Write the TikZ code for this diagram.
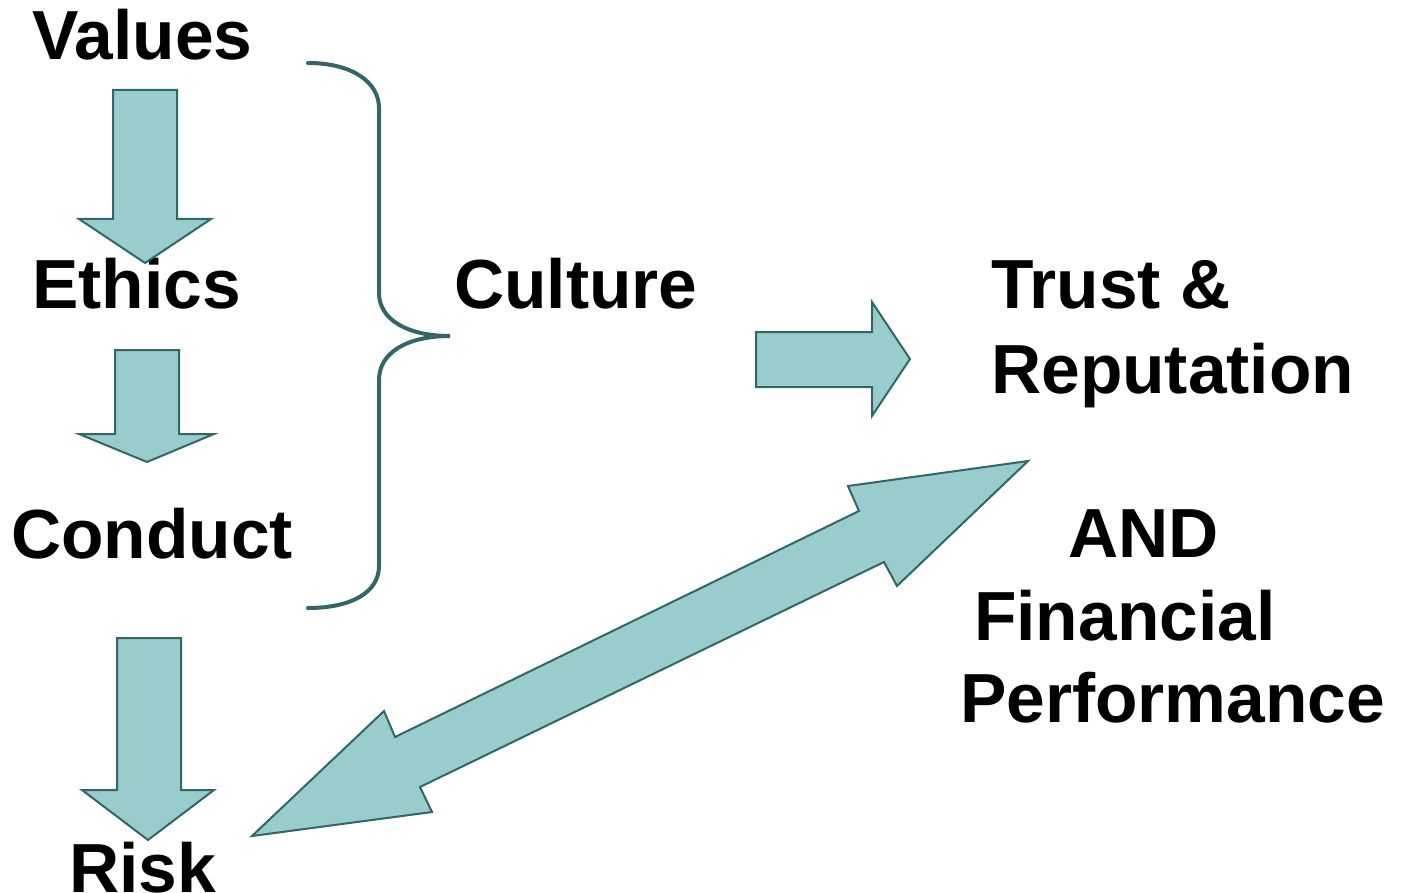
\documentclass[tikz,border=0pt]{standalone}
\usepackage{fontspec}
\setmainfont{Liberation Sans}
\begin{document}
\begin{tikzpicture}[x=1pt,y=-1pt,
  blockarrow/.style={fill=arrowfill,draw=arrowline,line width=2pt,line join=miter},
  brace/.style={draw=arrowline,line width=4pt,line cap=round},
  lbl/.style={anchor=base west,inner sep=0pt,font=\bfseries\fontsize{69.5}{83}\selectfont}]
\definecolor{arrowfill}{HTML}{99CCCC}
\definecolor{arrowline}{HTML}{336666}
\useasboundingbox (0,0) rectangle (1402,893);
% texts
\node[lbl] (values) at (32,60) {Values};
\node[lbl] (ethics) at (32,308) {Ethics};
\node[lbl] (conduct) at (11,558) {Conduct};
\node[lbl] (risk) at (69,892) {Risk};
\node[lbl] (culture) at (454,308) {Culture};
\node[lbl] (trust) at (991,308) {Trust \&};
\node[lbl] (rep) at (991,393) {Reputation};
\node[lbl] (and) at (1068,557) {AND};
\node[lbl] (fin) at (974,640) {Financial};
\node[lbl] (perf) at (960,722) {Performance};
% down arrows
\draw[blockarrow] (113,90) -- (177,90) -- (177,219) -- (211,219) -- (145,263) -- (79,219) -- (113,219) -- cycle;
\draw[blockarrow] (115,350) -- (179,350) -- (179,434) -- (214,434) -- (147,462) -- (79,434) -- (115,434) -- cycle;
\draw[blockarrow] (117,638) -- (181,638) -- (181,790) -- (214,790) -- (148,840) -- (82,790) -- (117,790) -- cycle;
% right arrow
\draw[blockarrow] (756,332) -- (872,332) -- (872,302) -- (910,359) -- (872,416) -- (872,387) -- (756,387) -- cycle;
% double arrow
\draw[blockarrow] (1028,461) -- (897,586) -- (884,562) -- (420,787) -- (432,812) -- (252,836) -- (384,711) -- (395,737) -- (859,511) -- (848,486) -- cycle;
% brace
\draw[brace] (308,63) .. controls (352,63) and (379,82) .. (379,108) -- (379,293)
  .. controls (379,320) and (408,336) .. (450,336)
  .. controls (408,336) and (379,352) .. (379,380) -- (379,566)
  .. controls (379,592) and (352,608) .. (308,608);
\end{tikzpicture}
\end{document}
